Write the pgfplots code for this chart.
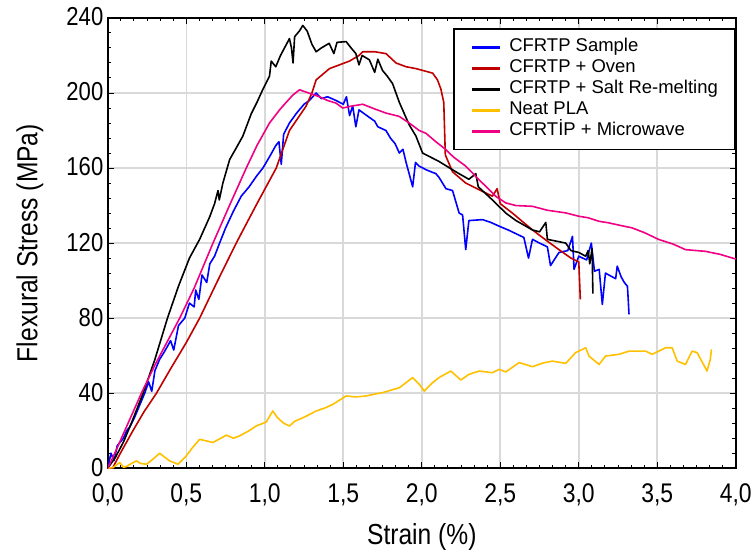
\documentclass[border=0pt]{standalone}
\usepackage{pgfplots}
\pgfplotsset{compat=1.18}
\usepackage{fontspec}
\setmainfont{Liberation Sans}
\newfontfamily\narrowfont[FakeStretch=0.85]{Liberation Sans}
\definecolor{cblue}{RGB}{0,0,255}
\definecolor{cred}{RGB}{192,0,0}
\definecolor{cyellow}{RGB}{255,192,0}
\definecolor{cpink}{RGB}{240,0,130}
\begin{document}
\begin{tikzpicture}
\begin{axis}[
 width=629pt, height=451pt, scale only axis,
 xmin=0, xmax=4, ymin=0, ymax=240,
 xtick={0,0.5,1,1.5,2,2.5,3,3.5,4}, ytick={0,40,80,120,160,200,240},
 minor x tick num=5, minor y tick num=4,
 tick align=inside,
 major tick length=6pt, minor tick length=3.5pt,
 every tick/.style={black, line width=1pt},
 grid=major, major grid style={line width=1.6pt, color=black!15},
 axis line style={line width=1.8pt},
 /pgf/number format/assume math mode=true,
 ticklabel style={font=\narrowfont\fontsize{26}{26}\selectfont},
 xticklabel style={yshift=-12pt, font=\narrowfont\fontsize{27}{27}\selectfont, /pgf/number format/.cd, use comma, fixed, fixed zerofill, precision=1},
 yticklabel style={xshift=-1pt, yshift=1pt, /pgf/number format/.cd, fixed, precision=0},
 xlabel={Strain (\%)}, ylabel={Flexural Stress (MPa)},
 label style={font=\narrowfont\fontsize{29}{30}\selectfont},
 xlabel style={at={(axis description cs:0.5,-0.153)}, anchor=center},
 ylabel style={at={(axis description cs:-0.124,0.5)}, anchor=center},
 legend style={at={(1,0.978)}, anchor=north east, draw=black, line width=1.8pt,
   font=\fontsize{18.5}{21}\selectfont, cells={anchor=west},
   inner xsep=16pt, inner ysep=9pt,
   nodes={inner sep=1pt, text height=13pt, text depth=4pt}, row sep=2pt},
 legend image code/.code={\draw[#1, line width=3pt] (0pt,0pt) -- (28pt,0pt); \path (36pt,0pt);},
 every axis plot/.append style={line width=1.6pt, line join=round},
]
\addplot[cblue] coordinates {
(0,0) (0.02,8) (0.04,4) (0.06,12) (0.1,16) (0.12,20) (0.14,22) (0.17,27) (0.2,33) (0.235,40) (0.26,46) (0.28,41) (0.3,52) (0.33,58) (0.36,62) (0.4,68) (0.42,63) (0.45,76) (0.49,80) (0.52,88) (0.55,86) (0.56,95) (0.58,90) (0.6,103) (0.63,99) (0.65,109) (0.68,113) (0.712,120) (0.75,128) (0.8,137) (0.85,145) (0.9,150) (0.95,156) (0.988,160) (1.03,166) (1.07,172) (1.09,174) (1.105,162) (1.12,178) (1.157,184) (1.2,189) (1.25,194) (1.284,196) (1.327,200) (1.36,197) (1.4,198) (1.454,196) (1.5,194) (1.52,198) (1.54,188) (1.56,193) (1.58,182) (1.6,191) (1.666,187) (1.7,185) (1.72,182) (1.772,180) (1.8,176) (1.83,173) (1.857,168) (1.88,170) (1.9,163) (1.942,150) (1.96,163) (1.984,161) (2.03,159) (2.09,157) (2.11,155) (2.154,149) (2.196,148) (2.238,136) (2.26,135) (2.28,116.5) (2.3,132) (2.387,132.5) (2.44,131) (2.493,129) (2.55,127) (2.6,125) (2.65,123) (2.68,112) (2.705,122) (2.75,120) (2.8,118) (2.82,108) (2.874,115) (2.93,116) (2.96,123.6) (2.97,106) (3.0,113) (3.05,111) (3.08,120) (3.1,105) (3.13,106) (3.15,87.3) (3.17,104) (3.235,101) (3.245,107.7) (3.27,102) (3.29,99) (3.31,97) (3.315,90) (3.32,82)
};
\addlegendentry{CFRTP Sample}
\addplot[cred] coordinates {
(0,0) (0.03,0) (0.08,8) (0.16,20) (0.23,30) (0.31,40) (0.4,53) (0.5,67) (0.585,80) (0.7,100) (0.818,120) (0.95,141) (1.073,160) (1.157,180) (1.263,193) (1.3,200) (1.327,207) (1.412,213) (1.539,217) (1.6,220) (1.624,222) (1.7,222) (1.772,221) (1.836,216) (1.9,214) (1.963,213) (2.069,210.6) (2.1,207) (2.122,202) (2.14,195) (2.15,167) (2.196,158) (2.28,152) (2.4,147) (2.45,145) (2.48,149) (2.5,141) (2.577,136) (2.705,127) (2.8,121) (2.874,116.5) (2.95,112) (3.0,110) (3.005,100) (3.01,90)
};
\addlegendentry{CFRTP + Oven}
\addplot[black] coordinates {
(0,0) (0.05,6) (0.1,14) (0.15,24) (0.225,40) (0.3,58) (0.38,80) (0.45,97) (0.52,112) (0.585,122) (0.649,134) (0.68,141) (0.702,148) (0.71,143) (0.733,152) (0.776,164.5) (0.82,171) (0.86,177) (0.914,189) (0.95,195) (0.988,202) (1.03,209) (1.041,217) (1.07,214) (1.1,220) (1.157,229) (1.17,224) (1.18,216) (1.19,230) (1.22,233) (1.242,236) (1.27,233) (1.3,226) (1.327,222) (1.36,224) (1.41,226.5) (1.44,221) (1.46,227) (1.518,227.4) (1.55,224) (1.58,221) (1.6,215) (1.62,220) (1.666,217.7) (1.7,211) (1.72,218) (1.75,212) (1.78,209) (1.814,205) (1.857,195) (1.92,183) (1.963,177) (2.005,168) (2.11,163.5) (2.217,158) (2.3,154) (2.344,157) (2.36,150) (2.45,143) (2.535,136) (2.6,132) (2.705,127) (2.75,126) (2.79,131) (2.8,122) (2.917,120) (2.95,116) (3.0,115) (3.044,113) (3.06,116) (3.07,109) (3.085,117) (3.09,93)
};
\addlegendentry{CFRTP + Salt Re-melting}
\addplot[cyellow] coordinates {
(0.0,0) (0.034,0.4) (0.076,3) (0.1,0.5) (0.119,0.9) (0.15,2.5) (0.182,3.9) (0.21,2.5) (0.246,2.1) (0.29,5) (0.33,8) (0.36,6) (0.394,3.9) (0.447,2.1) (0.5,6.6) (0.54,11) (0.585,15.4) (0.63,14.5) (0.67,13.7) (0.72,16) (0.755,17.6) (0.8,16) (0.839,17.2) (0.9,20) (0.945,22.5) (1.009,24.6) (1.051,30.5) (1.08,27) (1.12,24) (1.157,22.5) (1.19,25) (1.221,26.1) (1.27,28) (1.327,30.5) (1.38,32) (1.433,34) (1.518,38.5) (1.58,38) (1.645,38.5) (1.7,39.5) (1.751,40.3) (1.857,42.9) (1.942,48.3) (1.984,44.7) (2.016,41.1) (2.069,45.6) (2.11,48.3) (2.185,51.8) (2.249,47) (2.3,50) (2.366,51.8) (2.45,50.9) (2.493,52.7) (2.535,51.3) (2.62,56.3) (2.705,54.1) (2.77,56) (2.832,57.1) (2.917,55.9) (2.98,61.6) (3.044,64.2) (3.065,59.8) (3.129,55.3) (3.171,59.8) (3.256,60.7) (3.32,62.4) (3.426,62.4) (3.468,60.7) (3.553,64.2) (3.595,64.2) (3.627,57.1) (3.68,55.3) (3.722,62.4) (3.754,61.6) (3.817,51.8) (3.838,58) (3.845,63.3)
};
\addlegendentry{Neat PLA}
\addplot[cpink] coordinates {
(0,0) (0.05,9) (0.108,20) (0.214,40) (0.3,55) (0.458,80) (0.55,96) (0.67,120) (0.78,141) (0.882,160) (0.95,172) (1.03,184) (1.094,191) (1.136,195) (1.18,199) (1.221,201.7) (1.28,200) (1.348,198) (1.4,196) (1.454,194.6) (1.496,192) (1.55,193) (1.624,194) (1.7,191.5) (1.772,189.3) (1.857,187.5) (1.92,184) (1.984,180) (2.027,178.5) (2.09,174) (2.154,169.8) (2.2,166) (2.28,161) (2.35,155) (2.408,150.2) (2.47,145) (2.535,141.4) (2.6,140) (2.705,139.6) (2.8,137.5) (2.917,136.1) (3.0,134.3) (3.06,133.5) (3.129,131.6) (3.19,130.8) (3.26,129.5) (3.34,128.1) (3.42,125.5) (3.51,121.9) (3.6,119.5) (3.68,116.5) (3.75,116) (3.807,115.6) (3.9,114) (3.976,112.1) (4.0,111.5)
};
\addlegendentry{CFRTİP + Microwave}
\end{axis}
\path ([xshift=-108pt,yshift=-85pt]current axis.south west) rectangle ([xshift=18pt,yshift=18pt]current axis.north east);
\end{tikzpicture}
\end{document}
